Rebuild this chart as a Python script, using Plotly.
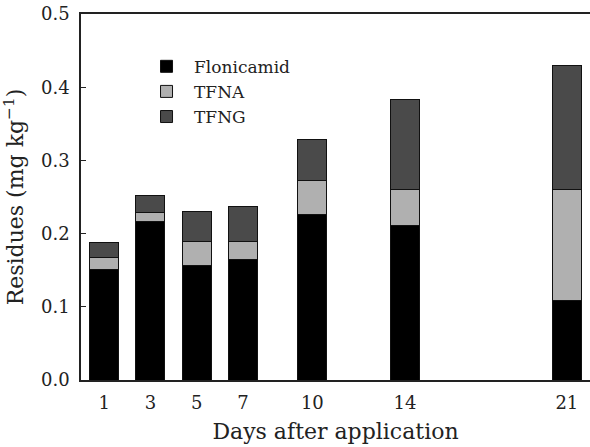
import plotly.graph_objects as go

days = [1, 3, 5, 7, 10, 14, 21]
flonicamid = [0.151, 0.217, 0.157, 0.164, 0.226, 0.211, 0.108]
tfna = [0.016, 0.012, 0.032, 0.025, 0.046, 0.049, 0.152]
tfng = [0.021, 0.023, 0.041, 0.048, 0.057, 0.123, 0.169]
series_names = ["Flonicamid", "TFNA", "TFNG"]
series_colors = ["#000000", "#b0b0b0", "#4a4a4a"]
y_ticks = [0.0, 0.1, 0.2, 0.3, 0.4, 0.5]

FONT = "DejaVu Serif"

fig = go.Figure()
for name, vals, col in zip(series_names, [flonicamid, tfna, tfng], series_colors):
    fig.add_trace(go.Bar(
        x=days, y=vals, name=name, width=1.25,
        marker=dict(color=col, line=dict(color="#111111", width=1)),
    ))

fig.update_layout(
    barmode="stack",
    width=590, height=447,
    margin=dict(l=81, r=0, t=14, b=67),
    paper_bgcolor="white", plot_bgcolor="white",
    font=dict(family=FONT, size=18, color="#222222"),
    showlegend=True,
    legend=dict(x=0.114, y=0.905, xanchor="left", yanchor="top",
                traceorder="normal",
                bgcolor="rgba(0,0,0,0)", font=dict(size=17),
                tracegroupgap=0, itemwidth=45),
    xaxis=dict(range=[0, 22], tickvals=days, ticktext=[str(d) for d in days],
               ticks="", showgrid=False, zeroline=False, automargin=False,
               showline=True, linecolor="#222222", linewidth=1.5, mirror=True,
               title=dict(text="Days after application", standoff=11),
               ticklabelstandoff=6),
    yaxis=dict(range=[0, 0.5], tickvals=y_ticks, ticktext=[f"{v:.1f}" for v in y_ticks],
               ticks="inside", ticklen=5, tickcolor="#222222", automargin=False,
               showgrid=False, zeroline=False, ticklabeloverflow="allow",
               showline=True, linecolor="#222222", linewidth=1.5, mirror=True,
               title=dict(text="Residues (mg kg<sup>\u22121</sup>)", standoff=12),
               ticklabelstandoff=6),
)

fig.write_html("out.html", config={"displayModeBar": False},
               post_script="document.body.style.margin='0';")
